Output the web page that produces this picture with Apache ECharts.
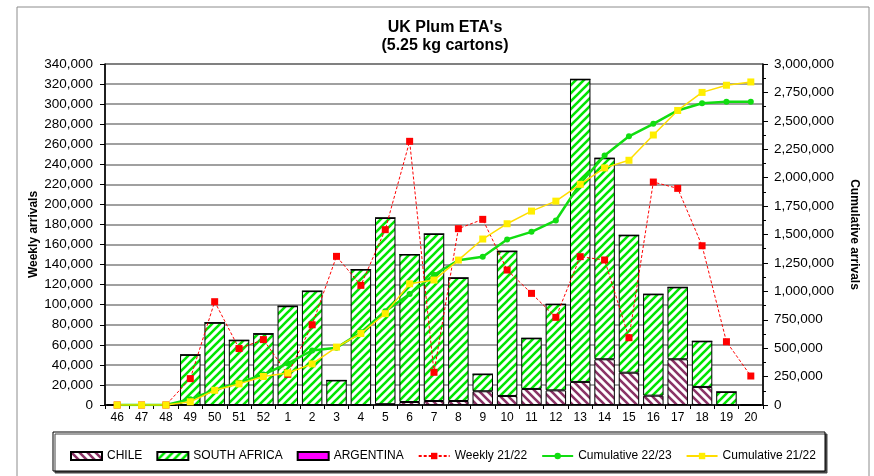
<!DOCTYPE html>
<html>
<head>
<meta charset="utf-8">
<script src="https://cdn.jsdelivr.net/npm/echarts@6/dist/echarts.min.js"></script>
<style>
  html, body { margin: 0; padding: 0; background: #fff; }
  #chart { width: 874px; height: 476px; }
</style>
</head>
<body>
<div id="chart"></div>
<script>
// week numbers
const weeks = ['46', '47', '48', '49', '50', '51', '52', '1', '2', '3', '4', '5', '6', '7', '8', '9', '10',
               '11', '12', '13', '14', '15', '16', '17', '18', '19', '20'];

// weekly arrivals by origin (cartons)
const chile = [0, 0, 0, 0, 0, 0, 0, 0, 0, 0, 0, 800, 3000, 4000, 4000, 13700, 9000,
               16000, 14600, 23000, 45600, 32200, 9300, 45600, 18000, 0, 0];
const southAfrica = [0, 0, 0, 50000, 82000, 64500, 71000, 98500, 113500, 24500, 135000, 185700, 147000, 166500, 122700, 17000, 144300,
                     50500, 85800, 301700, 200400, 137000, 101100, 71700, 45500, 13000, 0];
const argentina = [0, 0, 0, 0, 0, 0, 0, 0, 0, 0, 0, 0, 0, 0, 0, 0, 0,
                   0, 0, 0, 0, 0, 0, 0, 0, 0, 0];

// last season weekly
const weekly2122 = [0, 0, 0, 26300, 103000, 56300, 65200, 30600, 80000, 148200, 119300, 174800, 262900, 32600, 175800, 185100, 134600,
                    111300, 87400, 147900, 144600, 67100, 222300, 216000, 158800, 63100, 28900];

// cumulative (right axis)
const cum2223 = [0, 0, 0, 50000, 132000, 196500, 267500, 366000, 479500, 504000, 639000, 825500, 975500, 1146000, 1272700, 1303400, 1456700,
                 1523200, 1623600, 1948300, 2194300, 2363500, 2473900, 2591200, 2654700, 2667700, 2667700];
const cum2122 = [0, 0, 0, 28000, 129300, 185600, 250800, 281400, 361400, 509600, 628900, 803700, 1066600, 1099200, 1275000, 1460100, 1594700,
                 1706000, 1793400, 1941300, 2085900, 2153000, 2375300, 2591300, 2750100, 2813200, 2842100];

const FONT = "'Liberation Sans', Arial, sans-serif";

// hatched fill like the excel pattern
function stripes(color, up, lw) {
    const n = 8;
    const c = document.createElement('canvas');
    c.width = n; c.height = n;
    const g = c.getContext('2d');
    g.fillStyle = '#fff';
    g.fillRect(0, 0, n, n);
    g.strokeStyle = color;
    g.lineWidth = lw;
    g.beginPath();
    if (up) {
        g.moveTo(-2, n + 2); g.lineTo(n + 2, -2);
        g.moveTo(-2, 2); g.lineTo(2, -2);
        g.moveTo(n - 2, n + 2); g.lineTo(n + 2, n - 2);
    } else {
        g.moveTo(-2, -2); g.lineTo(n + 2, n + 2);
        g.moveTo(n - 2, -2); g.lineTo(n + 2, 2);
        g.moveTo(-2, n - 2); g.lineTo(2, n + 2);
    }
    g.stroke();
    return { image: c, repeat: 'repeat' };
}

let myChart = echarts.init(document.getElementById('chart'));

myChart.setOption({
    backgroundColor: '#fff',
    animation: false,
    textStyle: { fontFamily: FONT },
    title: {
        text: "UK Plum ETA's\n(5.25 kg cartons)",
        left: 440,
        textAlign: 'center',
        top: 14,
        textStyle: { fontSize: 16, fontWeight: 'bold', color: '#000', lineHeight: 18, fontFamily: FONT }
    },
    graphic: [
        // outer chart border
        { type: 'rect', shape: { x: 17, y: 7, width: 852, height: 480 },
          style: { fill: 'none', stroke: '#8c8c8c', lineWidth: 1 }, z: -1 },
        // legend box
        { type: 'rect', shape: { x: 53, y: 432, width: 772, height: 39 },
          style: { fill: '#fff', stroke: '#000', lineWidth: 1, shadowColor: '#444', shadowOffsetX: 2, shadowOffsetY: 2, shadowBlur: 0 }, z: 0 }
    ],
    legend: {
        left: 65,
        top: 445,
        itemWidth: 31,
        itemHeight: 8,
        itemGap: 14,
        z: 10,
        textStyle: { fontSize: 12, color: '#000', fontFamily: FONT },
        data: [
            { name: 'CHILE', icon: 'rect' },
            { name: 'SOUTH AFRICA', icon: 'rect' },
            { name: 'ARGENTINA', icon: 'rect' },
            'Weekly 21/22', 'Cumulative 22/23', 'Cumulative 21/22'
        ]
    },
    grid: {
        left: 105, right: 111, top: 64, bottom: 71,
        show: true, borderColor: '#000', borderWidth: 1, backgroundColor: 'transparent'
    },
    xAxis: {
        type: 'category',
        data: weeks,
        axisLine: { lineStyle: { color: '#000', width: 1.5 } },
        axisTick: { show: true, length: 4, lineStyle: { color: '#000' } },
        axisLabel: { color: '#000', fontSize: 12, margin: 7 }
    },
    yAxis: [
        {
            type: 'value',
            min: 0, max: 340000, interval: 20000,
            name: 'Weekly arrivals',
            nameLocation: 'middle',
            nameRotate: 90,
            nameGap: 65,
            nameMoveOverlap: false,
            nameTextStyle: { fontSize: 12, fontWeight: 'bold', color: '#000' },
            axisLine: { show: true, lineStyle: { color: '#000', width: 1.5 } },
            axisTick: { show: true, length: 5, lineStyle: { color: '#000' } },
            axisLabel: { color: '#000', fontSize: 13.5, margin: 12,
                         formatter: v => v.toLocaleString('en-US') },
            splitLine: { show: true, lineStyle: { color: '#808080', width: 1.5 } }
        },
        {
            type: 'value',
            min: 0, max: 3000000, interval: 250000,
            name: 'Cumulative arrivals',
            nameLocation: 'middle',
            nameRotate: -90,
            nameGap: 85,
            nameTextStyle: { fontSize: 12, fontWeight: 'bold', color: '#000' },
            axisLine: { show: true, lineStyle: { color: '#000', width: 1.5 } },
            axisTick: { show: true, length: 5, lineStyle: { color: '#000' } },
            minorTick: { show: true, splitNumber: 2, length: 3, lineStyle: { color: '#000' } },
            axisLabel: { color: '#000', fontSize: 13.5, margin: 11,
                         formatter: v => v.toLocaleString('en-US') },
            splitLine: { show: false }
        }
    ],
    series: [
        {
            name: 'CHILE', type: 'bar', stack: 'wk', data: chile,
            barCategoryGap: '16%',
            itemStyle: { color: stripes('#8b3366', false, 2.6), borderColor: '#000', borderWidth: 1 }
        },
        {
            name: 'SOUTH AFRICA', type: 'bar', stack: 'wk', data: southAfrica,
            itemStyle: { color: stripes('#00e600', true, 2.6), borderColor: '#000', borderWidth: 1 }
        },
        {
            name: 'ARGENTINA', type: 'bar', stack: 'wk', data: argentina,
            itemStyle: { color: '#ff00ff', borderColor: '#000', borderWidth: 1 }
        },
        {
            name: 'Weekly 21/22', type: 'line', yAxisIndex: 0, data: weekly2122,
            symbol: 'rect', symbolSize: 7,
            itemStyle: { color: '#ff0000' },
            lineStyle: { color: '#ff0000', width: 1, type: [3, 2] }
        },
        {
            name: 'Cumulative 22/23', type: 'line', yAxisIndex: 1, data: cum2223,
            symbol: 'circle', symbolSize: 6,
            itemStyle: { color: '#11dd11' },
            lineStyle: { color: '#11dd11', width: 2.5 }
        },
        {
            name: 'Cumulative 21/22', type: 'line', yAxisIndex: 1, data: cum2122,
            symbol: 'rect', symbolSize: 7,
            itemStyle: { color: '#ffee00' },
            lineStyle: { color: '#ffdd00', width: 1.5 }
        }
    ]
});
</script>
</body>
</html>
